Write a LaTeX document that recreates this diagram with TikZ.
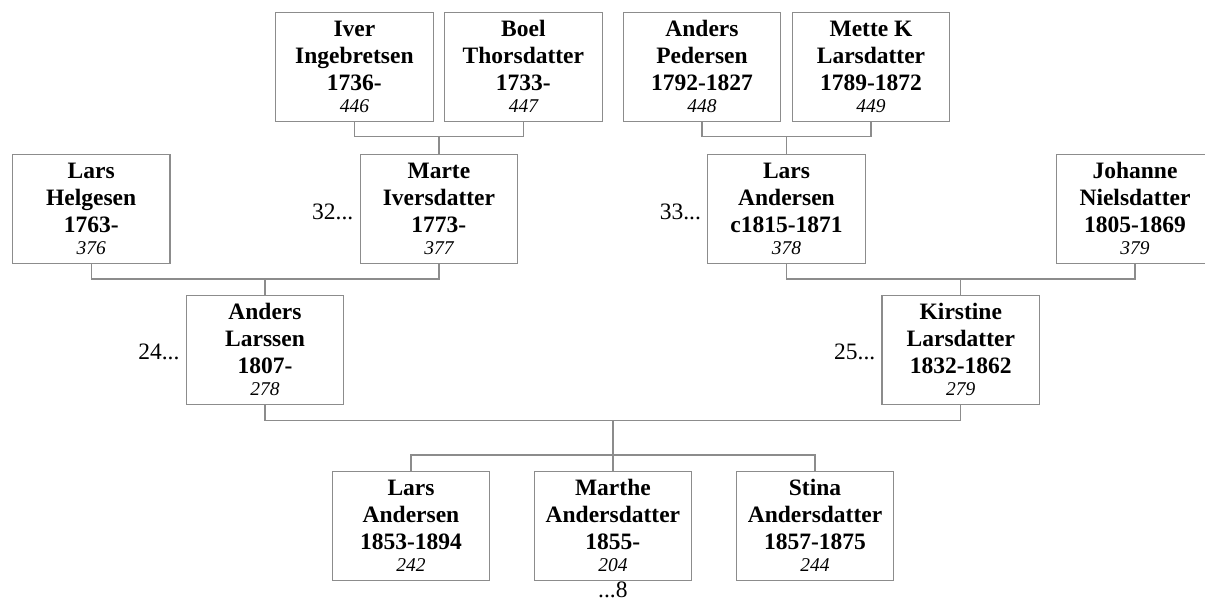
\documentclass[tikz,border=0pt]{standalone}
\usepackage{fontspec}
\setmainfont{Liberation Serif}
\definecolor{linegray}{RGB}{140,140,140}
\newcommand\namefont{\fontsize{23.5}{26.8}\selectfont\bfseries}
\newcommand\numfont{\fontsize{19.5}{22}\selectfont\mdseries\itshape}
\newcommand\sidefont{\fontsize{23.5}{26.8}\selectfont}
\tikzset{
  person/.style={draw=linegray, line width=1.2pt, fill=white, minimum width=157.5pt, minimum height=109pt, inner sep=0pt, font=\namefont, text=black},
  conn/.style={draw=linegray, line width=1.2pt},
  sidelbl/.style={font=\sidefont, inner sep=0pt, text=black}
}
\newcommand\pbox[7]{\node[person] (#1) at (#2,#3) {\begin{tabular}{@{}c@{}}\rule{0pt}{24pt}#4\\#5\\#6\\[-4.8pt]{\numfont #7}\end{tabular}};}
\begin{document}
\begin{tikzpicture}[x=1pt,y=-1pt]
\clip (0,0) rectangle (1205,602);
\fill[white] (0,0) rectangle (1205,602);
% top row
\pbox{iver}{354.4}{66.8}{Iver}{Ingebretsen}{1736-}{446}
\pbox{boel}{523.4}{66.8}{Boel}{Thorsdatter}{1733-}{447}
\pbox{anderp}{702}{66.8}{Anders}{Pedersen}{1792-1827}{448}
\pbox{mette}{871}{66.8}{Mette K}{Larsdatter}{1789-1872}{449}
% second row
\pbox{larsh}{91.2}{208.8}{Lars}{Helgesen}{1763-}{376}
\pbox{marte}{438.9}{208.8}{Marte}{Iversdatter}{1773-}{377}
\pbox{larsa}{786.5}{208.8}{Lars}{Andersen}{c1815-1871}{378}
\pbox{johanne}{1135}{208.8}{Johanne}{Nielsdatter}{1805-1869}{379}
% third row
\pbox{andersl}{265}{349.6}{Anders}{Larssen}{1807-}{278}
\pbox{kirstine}{960.8}{349.6}{Kirstine}{Larsdatter}{1832-1862}{279}
% children
\pbox{larsc}{411}{525.8}{Lars}{Andersen}{1853-1894}{242}
\pbox{marthe}{612.9}{525.8}{Marthe}{Andersdatter}{1855-}{204}
\pbox{stina}{815}{525.8}{Stina}{Andersdatter}{1857-1875}{244}
% side labels
\node[sidelbl, anchor=base east] (l32) at ([xshift=-6pt,yshift=-10.3pt]marte.west) {32...};
\node[sidelbl, anchor=base east] (l33) at ([xshift=-6pt,yshift=-10.3pt]larsa.west) {33...};
\node[sidelbl, anchor=base east] (l24) at ([xshift=-6pt,yshift=-10.3pt]andersl.west) {24...};
\node[sidelbl, anchor=base east] (l25) at ([xshift=-6pt,yshift=-10.3pt]kirstine.west) {25...};
\node[sidelbl, anchor=base] (l8) at ([yshift=-17pt]marthe.south) {...8};
% connectors
\draw[conn] (iver.south) -- (iver.south |- 0,136.7) -- (boel.south |- 0,136.7) -- (boel.south);
\draw[conn] (marte.north) -- (marte.north |- 0,136.7);
\draw[conn] (anderp.south) -- (anderp.south |- 0,136.7) -- (mette.south |- 0,136.7) -- (mette.south);
\draw[conn] (larsa.north) -- (larsa.north |- 0,136.7);
\draw[conn] (larsh.south) -- (larsh.south |- 0,279) -- (marte.south |- 0,279) -- (marte.south);
\draw[conn] (andersl.north) -- (andersl.north |- 0,279);
\draw[conn] (larsa.south) -- (larsa.south |- 0,279) -- (johanne.south |- 0,279) -- (johanne.south);
\draw[conn] (kirstine.north) -- (kirstine.north |- 0,279);
\draw[conn] (andersl.south) -- (andersl.south |- 0,420.5) -- (kirstine.south |- 0,420.5) -- (kirstine.south);
\draw[conn] (marthe.north) -- (marthe.north |- 0,420.5);
\draw[conn] (larsc.north) -- (larsc.north |- 0,455) -- (stina.north |- 0,455) -- (stina.north);
\end{tikzpicture}
\end{document}
